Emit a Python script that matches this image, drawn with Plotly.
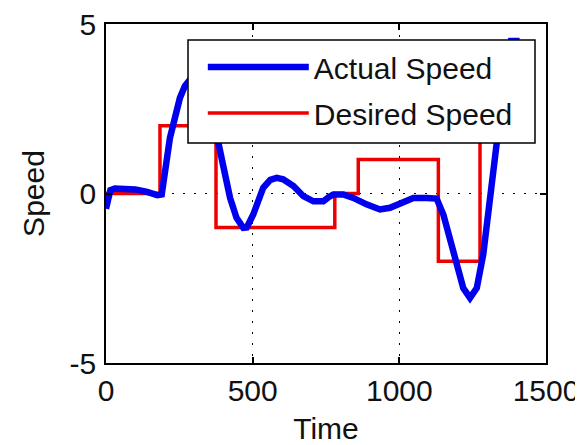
import plotly.graph_objects as go

# Actual speed
actual_t = [0, 5, 15, 30, 60, 100, 140, 175, 190, 201, 218, 235, 252, 269, 281, 295, 310, 325, 345, 365,
            383, 401, 423, 445, 468, 480, 502, 536, 560, 582, 604, 639, 673, 707, 741, 760, 775, 809, 843,
            888, 934, 968, 1002, 1048, 1093, 1127, 1150, 1173, 1196, 1218, 1241, 1264, 1286, 1303, 1320,
            1332, 1345, 1358, 1370, 1380, 1410]
actual_v = [-0.45, -0.3, 0.1, 0.15, 0.15, 0.12, 0.05, -0.05, -0.03, 0.76, 1.64, 2.23, 2.82, 3.17, 3.31,
            3.45, 3.5, 3.4, 3.0, 2.3, 1.5, 0.76, -0.13, -0.72, -1.01, -1.0, -0.62, 0.17, 0.4, 0.46, 0.42,
            0.22, -0.08, -0.23, -0.23, -0.1, -0.03, -0.03, -0.13, -0.32, -0.47, -0.42, -0.28, -0.13, -0.13,
            -0.15, -0.62, -1.31, -2.1, -2.79, -3.08, -2.79, -1.8, -0.62, 0.66, 1.55, 2.4, 3.4, 4.2, 4.5, 4.5]

# Desired speed (step changes)
desired_t = [0, 184, 375, 780, 860, 1133, 1275, 1410]
desired_v = [0, 2, -1, 0, 1, -2, 4, 4]

x_ticks = [0, 500, 1000, 1500]
x_labels = ["0", "500", "1000", "1500"]
y_ticks = [-5, 0, 5]
y_labels = ["-5", "0", "5"]

FONT = "Liberation Sans, Arial, sans-serif"

fig = go.Figure()
fig.add_trace(go.Scatter(x=desired_t, y=desired_v, mode="lines", name="Desired Speed",
                         line=dict(color="#ee0000", width=3.5, shape="hv"),
                         legendrank=2, legendgroup="b"))
fig.add_trace(go.Scatter(x=actual_t, y=actual_v, mode="lines", name="Actual Speed",
                         line=dict(color="#0000ee", width=6.5),
                         legendrank=1, legendgroup="a"))

axis_common = dict(
    showline=True, linecolor="black", linewidth=1.5, mirror="ticks",
    ticks="inside", ticklen=6, tickwidth=1.5, tickcolor="black",
    showgrid=True, gridcolor="black", gridwidth=1.3, griddash="2px,9px",
    zeroline=False, automargin=False, ticklabeloverflow="allow",
    tickfont=dict(family=FONT, size=30, color="#111"),
    title_font=dict(family=FONT, size=30, color="#111"),
)

fig.update_xaxes(range=[0, 1500], tickvals=x_ticks, ticktext=x_labels, title_text="Time",
                 title_standoff=15, **axis_common)
fig.update_yaxes(range=[-5, 5], tickvals=y_ticks, ticktext=y_labels, title_text="Speed",
                 title_standoff=16, ticklabelstandoff=2, **axis_common)

# legend frame (white box with black border) drawn above the data
fig.add_shape(type="rect", xref="paper", yref="paper",
              x0=0.1864, x1=0.975, y0=0.649, y1=0.953,
              fillcolor="white", line=dict(color="black", width=1.5), layer="above")

# the page body adds an 8px offset: the figure is sized/margined to compensate
fig.update_layout(
    width=575, height=437,
    margin=dict(l=98, r=37, t=16, b=82),
    paper_bgcolor="white", plot_bgcolor="white",
    showlegend=True,
    legend=dict(x=0.220, y=0.950, xanchor="left", yanchor="top",
                bgcolor="rgba(0,0,0,0)", borderwidth=0,
                font=dict(family=FONT, size=30, color="#111"),
                itemwidth=101, tracegroupgap=4, traceorder="grouped"),
)

fig.write_html("out.html")
